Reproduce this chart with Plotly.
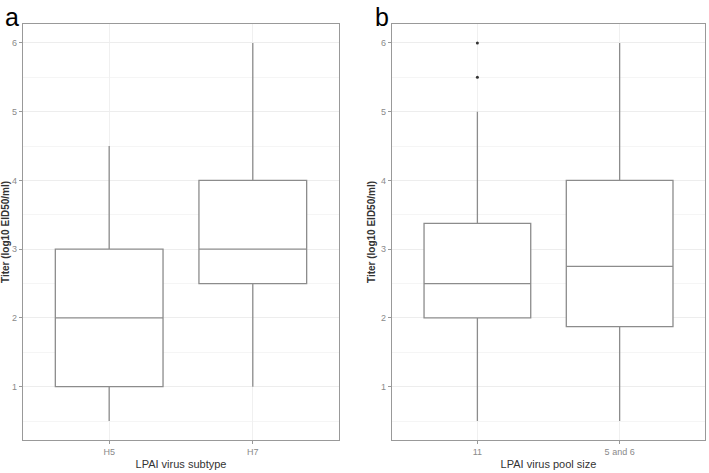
import plotly.graph_objects as go

# panel a: LPAI virus subtype
subtype = ["H5", "H7"]
sub_low = [0.5, 1.0]
sub_q1 = [1.0, 2.5]
sub_med = [2.0, 3.0]
sub_q3 = [3.0, 4.0]
sub_high = [4.5, 6.0]

# panel b: LPAI virus pool size
pool = ["11", "5 and 6"]
pool_low = [0.5, 0.5]
pool_q1 = [2.0, 1.875]
pool_med = [2.5, 2.75]
pool_q3 = [3.375, 4.0]
pool_high = [5.0, 6.0]
pool_out_x = ["11", "11"]
pool_out_y = [6.0, 5.5]

box_line = "#8c8c8c"
font = "Liberation Sans, Arial, sans-serif"

fig = go.Figure()

fig.add_trace(go.Box(
    x=subtype, q1=sub_q1, median=sub_med, q3=sub_q3,
    lowerfence=sub_low, upperfence=sub_high,
    width=0.75, whiskerwidth=0, fillcolor="white",
    line=dict(color=box_line, width=1.3),
    boxpoints=False, xaxis="x", yaxis="y", showlegend=False,
))
fig.add_trace(go.Box(
    x=pool, q1=pool_q1, median=pool_med, q3=pool_q3,
    lowerfence=pool_low, upperfence=pool_high,
    width=0.75, whiskerwidth=0, fillcolor="white",
    line=dict(color=box_line, width=1.3),
    boxpoints=False, xaxis="x2", yaxis="y2", showlegend=False,
))
fig.add_trace(go.Scatter(
    x=pool_out_x, y=pool_out_y, mode="markers",
    marker=dict(color="#333333", size=3),
    xaxis="x2", yaxis="y2", showlegend=False,
))

xcommon = dict(
    showline=True, mirror=True, linecolor="#999999", linewidth=1.2,
    showgrid=True, gridcolor="#f0f0f0", gridwidth=1,
    ticks="outside", ticklen=3, tickcolor="#999999",
    tickfont=dict(size=9, color="#8a8a8a", family=font),
    range=[-0.6, 1.6], zeroline=False, automargin=False,
)
ycommon = dict(
    showline=True, mirror=True, linecolor="#999999", linewidth=1.2,
    showgrid=True, gridcolor="#ededed", gridwidth=1,
    minor=dict(dtick=0.5, showgrid=True, gridcolor="#f5f5f5", gridwidth=1),
    ticks="outside", ticklen=3, tickcolor="#999999",
    tickfont=dict(size=9, color="#8a8a8a", family=font),
    range=[0.225, 6.275], dtick=1, zeroline=False, automargin=False,
    title=dict(text="<b>Titer (log10 EID50/ml)</b>", standoff=3,
               font=dict(size=10, color="#333333", family=font)),
)

fig.update_layout(
    width=709, height=473,
    margin=dict(l=23, r=4, t=24, b=33),
    paper_bgcolor="white", plot_bgcolor="white",
    xaxis=dict(xcommon, domain=[0.0, 0.4633], anchor="y",
               title=dict(text="LPAI virus subtype", standoff=4,
                          font=dict(size=11, color="#333333", family=font))),
    yaxis=dict(ycommon, domain=[0.0, 1.0], anchor="x"),
    xaxis2=dict(xcommon, domain=[0.5411, 1.0], anchor="y2",
                title=dict(text="LPAI virus pool size", standoff=4,
                           font=dict(size=11, color="#333333", family=font))),
    yaxis2=dict(ycommon, domain=[0.0, 1.0], anchor="x2"),
    annotations=[
        dict(text="a", x=-0.0293, y=1.055, xref="paper", yref="paper",
             xanchor="left", yanchor="top", showarrow=False,
             font=dict(size=25, color="black", family=font)),
        dict(text="b", x=0.513, y=1.055, xref="paper", yref="paper",
             xanchor="left", yanchor="top", showarrow=False,
             font=dict(size=25, color="black", family=font)),
    ],
)

fig.write_html("out.html", config={"displayModeBar": False},
               post_script="document.body.style.margin='0';")
